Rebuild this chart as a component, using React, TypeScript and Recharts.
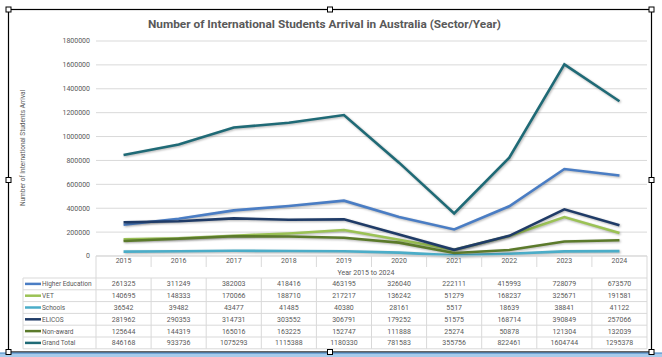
import { LineChart, Line, XAxis, YAxis, CartesianGrid } from 'recharts';

const years = ['2015', '2016', '2017', '2018', '2019', '2020', '2021', '2022', '2023', '2024'];
const higherEducation = [261325, 311249, 382003, 418416, 463195, 326040, 222111, 415993, 728079, 673570];
const vet = [140695, 148333, 170066, 188710, 217217, 136242, 51279, 168237, 325671, 191581];
const schools = [36542, 39482, 43477, 41485, 40380, 28161, 5517, 18639, 38841, 41122];
const elicos = [281962, 290353, 314731, 303552, 306791, 179252, 51575, 168714, 390849, 257066];
const nonAward = [125644, 144319, 165016, 163225, 152747, 111888, 25274, 50878, 121304, 132039];
const grandTotal = [846168, 933736, 1075293, 1115388, 1180330, 781583, 355756, 822461, 1604744, 1295378];
const yTicks = [0, 200000, 400000, 600000, 800000, 1000000, 1200000, 1400000, 1600000, 1800000];

const series = [
  { key: 'he', name: 'Higher Education', values: higherEducation, color: '#4A7DC4' },
  { key: 'vet', name: 'VET', values: vet, color: '#9BC255' },
  { key: 'schools', name: 'Schools', values: schools, color: '#4BADC8' },
  { key: 'elicos', name: 'ELICOS', values: elicos, color: '#1F3B67' },
  { key: 'nonAward', name: 'Non-award', values: nonAward, color: '#5B7A2B' },
  { key: 'total', name: 'Grand Total', values: grandTotal, color: '#1F6A76' },
];

const data = years.map((year, i) => {
  const row: Record<string, string | number> = { year };
  series.forEach((s) => (row[s.key] = s.values[i]));
  return row;
});

const W = 662;
const H = 357;
const PLOT_LEFT = 96;
const PLOT_RIGHT = 647;
const PLOT_TOP = 41;
const PLOT_BOTTOM = 256;
const BAND = (PLOT_RIGHT - PLOT_LEFT) / years.length;
const TABLE_LEFT = 23;
const ROW_TOP = 278;
const ROW_H = 11.8;
const GRID = '#D9D9D9';
const TEXT = '#595959';
const SMALL_FONT = 'Roboto, sans-serif';

function Handle({ x, y }: { x: number; y: number }) {
  return <rect x={x - 2.5} y={y - 2.5} width={5} height={5} fill="#fff" stroke="#000" strokeWidth={1} />;
}

export default function App() {
  return (
    <div style={{ position: 'absolute', left: 0, top: 0, width: W, height: H, background: '#fff', overflow: 'hidden' }}>
      <style>{`.recharts-line-curve{filter:drop-shadow(1px 1.5px 1px rgba(0,0,0,0.3))}`}</style>
      <div style={{ position: 'absolute', left: 0, top: 0 }}>
        <LineChart
          width={W}
          height={H}
          data={data}
          margin={{ top: PLOT_TOP, right: W - PLOT_RIGHT, bottom: H - PLOT_BOTTOM - 12, left: 0 }}
        >
          <CartesianGrid vertical={false} stroke={GRID} strokeWidth={1} />
          <XAxis
            dataKey="year"
            height={12}
            axisLine={false}
            tickLine={false}
            tickSize={0}
            tickMargin={2}
            interval={0}
            padding={{ left: BAND / 2, right: BAND / 2 }}
            tick={{ fill: TEXT, fontSize: 7, fontFamily: SMALL_FONT }}
          />
          <YAxis
            width={PLOT_LEFT}
            domain={[0, 1800000]}
            ticks={yTicks}
            axisLine={false}
            tickLine={false}
            tickSize={0}
            tickMargin={6}
            interval={0}
            tick={{ fill: TEXT, fontSize: 7, fontFamily: SMALL_FONT }}
          />
          {series.map((s) => (
            <Line
              key={s.key}
              type="linear"
              dataKey={s.key}
              name={s.name}
              stroke={s.color}
              strokeWidth={2.6}
              dot={false}
              activeDot={false}
              isAnimationActive={false}
            />
          ))}
        </LineChart>
      </div>

      <svg width={W} height={H} style={{ position: 'absolute', left: 0, top: 0, pointerEvents: 'none' }}>
        {/* title */}
        <text
          x={324.5}
          y={27.5}
          textAnchor="middle"
          fill={TEXT}
          fontSize={11.5}
          fontWeight="bold"
          textLength={353}
          lengthAdjust="spacingAndGlyphs"
          fontFamily="Roboto, sans-serif"
        >
          Number of International Students Arrival in Australia (Sector/Year)
        </text>
        {/* y axis title */}
        <text
          transform="translate(25,148) rotate(-90)"
          textAnchor="middle"
          fill={TEXT}
          fontSize={6.5}
          fontFamily={SMALL_FONT}
        >
          Number of International Students Arrival
        </text>

        {/* data table grid */}
        <line x1={PLOT_LEFT} x2={PLOT_RIGHT} y1={PLOT_BOTTOM} y2={PLOT_BOTTOM} stroke={GRID} />
        {years.map((_, i) => (
          <line
            key={'hv' + i}
            x1={PLOT_LEFT + i * BAND}
            x2={PLOT_LEFT + i * BAND}
            y1={PLOT_BOTTOM}
            y2={i === 0 ? ROW_TOP : PLOT_BOTTOM + 11}
            stroke={GRID}
          />
        ))}
        <line x1={PLOT_RIGHT} x2={PLOT_RIGHT} y1={PLOT_BOTTOM} y2={ROW_TOP} stroke={GRID} />
        {series.map((_, r) => (
          <line
            key={'rh' + r}
            x1={TABLE_LEFT}
            x2={PLOT_RIGHT}
            y1={ROW_TOP + r * ROW_H}
            y2={ROW_TOP + r * ROW_H}
            stroke={GRID}
          />
        ))}
        <line
          x1={TABLE_LEFT}
          x2={PLOT_RIGHT}
          y1={ROW_TOP + series.length * ROW_H}
          y2={ROW_TOP + series.length * ROW_H}
          stroke={GRID}
        />
        {[TABLE_LEFT, ...years.map((_, i) => PLOT_LEFT + i * BAND), PLOT_RIGHT].map((x, i) => (
          <line
            key={'tv' + i}
            x1={x}
            x2={x}
            y1={ROW_TOP}
            y2={ROW_TOP + series.length * ROW_H}
            stroke={GRID}
          />
        ))}
        <text
          x={366}
          y={274.5}
          textAnchor="middle"
          fill={TEXT}
          fontSize={7}
          fontFamily={SMALL_FONT}
        >
          Year 2015 to 2024
        </text>
        {series.map((s, r) => {
          const cy = ROW_TOP + r * ROW_H + ROW_H / 2;
          return (
            <g key={'row' + s.key}>
              <line x1={25} x2={41} y1={cy} y2={cy} stroke={s.color} strokeWidth={2.5} />
              <text x={42} y={cy + 2.4} fill={TEXT} fontSize={6.5} fontFamily={SMALL_FONT}>
                {s.name}
              </text>
              {s.values.map((v, i) => (
                <text
                  key={i}
                  x={PLOT_LEFT + (i + 0.5) * BAND}
                  y={cy + 2.4}
                  textAnchor="middle"
                  fill={TEXT}
                  fontSize={7}
                  fontFamily={SMALL_FONT}
                >
                  {v}
                </text>
              ))}
            </g>
          );
        })}

        {/* frame with selection handles */}
        <rect x={8.5} y={9.5} width={643} height={342.5} fill="none" stroke="#000" strokeWidth={1.2} />
        <rect x={0} y={353} width={W} height={4} fill="#A8CBEA" />
        <line x1={0} x2={W} y1={353} y2={353} stroke="#3C82C4" strokeWidth={1} />
        <Handle x={8.5} y={9.5} />
        <Handle x={330} y={9.5} />
        <Handle x={651.5} y={9.5} />
        <Handle x={8.5} y={180} />
        <Handle x={651.5} y={180} />
        <Handle x={8.5} y={352} />
        <Handle x={330} y={352} />
        <Handle x={651.5} y={352} />
      </svg>
    </div>
  );
}
